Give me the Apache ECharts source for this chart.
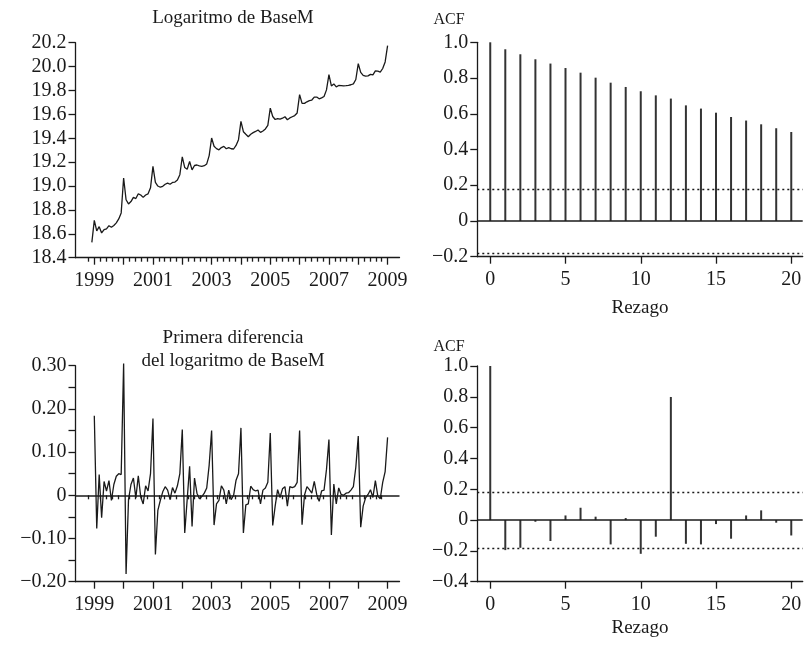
<!DOCTYPE html>
<html><head><meta charset="utf-8">
<script src="https://cdn.jsdelivr.net/npm/echarts@6/dist/echarts.min.js"></script>
<style>html,body{margin:0;padding:0;background:#fff}#c{width:806px;height:645px}</style>
</head><body><div id="c"></div>
<script>
// Log of BaseM, monthly Nov 1998 .. Dec 2008
const logStart = {year: 1998, month: 11};
const logBaseM = [
  18.528, 18.712,
  18.625, 18.660, 18.607, 18.635, 18.642, 18.668, 18.655, 18.670, 18.692, 18.725, 18.775, 19.067,
  18.885, 18.850, 18.870, 18.905, 18.895, 18.935, 18.925, 18.905, 18.925, 18.935, 18.985, 19.165,
  19.030, 19.000, 18.990, 18.998, 19.015, 19.025, 19.015, 19.030, 19.033, 19.050, 19.095, 19.245,
  19.155, 19.140, 19.205, 19.135, 19.172, 19.176, 19.168, 19.165, 19.170, 19.185, 19.255, 19.402,
  19.333, 19.313, 19.303, 19.322, 19.332, 19.312, 19.322, 19.312, 19.310, 19.340, 19.388, 19.542,
  19.455, 19.433, 19.413, 19.434, 19.447, 19.457, 19.469, 19.449, 19.461, 19.478, 19.508, 19.652,
  19.582, 19.557, 19.565, 19.560, 19.568, 19.580, 19.555, 19.570, 19.580, 19.590, 19.612, 19.765,
  19.692, 19.692, 19.705, 19.715, 19.720, 19.745, 19.745, 19.730, 19.738, 19.750, 19.805, 19.933,
  19.838, 19.855, 19.830, 19.842, 19.840, 19.838, 19.840, 19.843, 19.848, 19.855, 19.892, 20.025,
  19.951, 19.926, 19.920, 19.922, 19.935, 19.930, 19.964, 19.962, 19.954, 19.984, 20.039, 20.175
];
// First difference, monthly Dec 1998 .. Dec 2008
const diffStart = {year: 1998, month: 12};
const diffLogBaseM = [
  0.184,
  -0.077, 0.048, -0.052, 0.032, 0.010, 0.034, -0.012, 0.025, 0.044, 0.050, 0.048, 0.305,
  -0.182, -0.010, 0.025, 0.040, -0.006, 0.045, -0.004, -0.020, 0.022, 0.010, 0.050, 0.178,
  -0.137, -0.035, -0.012, 0.008, 0.020, 0.012, -0.010, 0.018, 0.005, 0.022, 0.050, 0.152,
  -0.087, -0.010, 0.067, -0.072, 0.040, 0.005, -0.008, -0.003, 0.005, 0.017, 0.070, 0.150,
  -0.069, -0.020, -0.012, 0.022, 0.012, -0.020, 0.012, -0.010, 0.000, 0.035, 0.050, 0.156,
  -0.087, -0.022, -0.020, 0.021, 0.013, 0.010, 0.012, -0.020, 0.012, 0.017, 0.030, 0.144,
  -0.070, -0.025, 0.013, -0.005, 0.015, 0.020, -0.025, 0.020, 0.018, 0.020, 0.030, 0.150,
  -0.068, 0.000, 0.020, 0.013, 0.005, 0.032, 0.002, -0.014, 0.010, 0.012, 0.060, 0.129,
  -0.092, 0.026, -0.020, 0.017, 0.002, 0.000, 0.005, 0.006, 0.012, 0.020, 0.065, 0.137,
  -0.074, -0.025, -0.006, 0.002, 0.013, -0.005, 0.034, -0.002, -0.008, 0.030, 0.055, 0.134
];
const lags = [0,1,2,3,4,5,6,7,8,9,10,11,12,13,14,15,16,17,18,19,20];
const acfLog = [1.0,0.961,0.933,0.905,0.881,0.856,0.830,0.802,0.774,0.750,0.726,0.703,0.685,0.647,0.629,0.606,0.582,0.562,0.541,0.519,0.498];
const acfDiff = [1.0,-0.195,-0.180,-0.011,-0.136,0.030,0.080,0.022,-0.158,0.013,-0.219,-0.108,0.799,-0.154,-0.158,-0.026,-0.121,0.030,0.063,-0.017,-0.100];
const confBand = 0.18;

const yearTicks = [1999,2000,2001,2002,2003,2004,2005,2006,2007,2008,2009];
const yearLabels = [1999,2001,2003,2005,2007,2009];
const yTicksLog = [18.4,18.6,18.8,19.0,19.2,19.4,19.6,19.8,20.0,20.2];
const yTicksDiff = [-0.20,-0.15,-0.10,-0.05,0,0.05,0.10,0.15,0.20,0.25,0.30];
const yLabelsDiff = [-0.20,-0.10,0,0.10,0.20,0.30];
const yTicksAcf1 = [-0.2,0,0.2,0.4,0.6,0.8,1.0];
const yTicksAcf2 = [-0.4,-0.2,0,0.2,0.4,0.6,0.8,1.0];
const lagTicks = [0,5,10,15,20];

const FONT = "'Liberation Serif', 'DejaVu Serif', serif";
const INK = '#1a1a1a';

function toT(start, i){ return start.year + (start.month + i)/12; }
const logData = logBaseM.map((v,i)=>[toT(logStart,i), v]);
const diffData = diffLogBaseM.map((v,i)=>[toT(diffStart,i), v]);

const minorTicks = [];
for (let y = 1998; y <= 2008; y++) for (let k = 1; k <= 4; k++) { const t = y + k*0.2; if (t > 1998.7) minorTicks.push(+t.toFixed(2)); }

function fmtNum(v, d){ if (Math.abs(v) < 1e-9) return '0'; const s = Math.abs(v).toFixed(d); return (v < 0 ? '\u2212' : '') + s; }

const XMIN = 1998.359, XMAX = 2009.406;
const LMIN = -0.86, LMAX = 20.76;

const lineW = 1.3;
function timeXAxes(g){
  return [{
    gridIndex: g, type: 'value', min: XMIN, max: XMAX, position: 'bottom',
    axisLine: {show: true, onZero: false, lineStyle: {color: INK, width: lineW}},
    axisTick: {show: true, length: 7, customValues: yearTicks, lineStyle: {color: INK, width: lineW}},
    axisLabel: {customValues: yearLabels, fontSize: 20, fontFamily: FONT, color: INK, margin: 13, formatter: v => String(Math.round(v))},
    splitLine: {show: false}
  },{
    gridIndex: g, type: 'value', min: XMIN, max: XMAX, position: 'bottom', offset: 0,
    axisLine: {show: false},
    axisTick: {show: true, length: 4, customValues: minorTicks, lineStyle: {color: INK, width: lineW}},
    axisLabel: {show: false}, splitLine: {show: false}
  }];
}
function lagXAxis(g){
  return {
    gridIndex: g, type: 'value', min: LMIN, max: LMAX, position: 'bottom',
    axisLine: {show: true, onZero: false, lineStyle: {color: INK, width: lineW}},
    axisTick: {show: true, length: 7, customValues: lagTicks, lineStyle: {color: INK, width: lineW}},
    axisLabel: {customValues: lagTicks, fontSize: 20, fontFamily: FONT, color: INK, margin: 13},
    splitLine: {show: false}
  };
}
function yAxis(g, min, max, ticks, labels, fmt){
  return {
    gridIndex: g, type: 'value', min, max,
    axisLine: {show: true, onZero: false, lineStyle: {color: INK, width: lineW}},
    axisTick: {show: true, length: 7, customValues: ticks, lineStyle: {color: INK, width: lineW}},
    axisLabel: {customValues: labels, fontSize: 20, fontFamily: FONT, color: INK, margin: 9, formatter: fmt},
    splitLine: {show: false}
  };
}

const option = {
  backgroundColor: '#fff',
  animation: false,
  grid: [
    {left: 75.5, top: 42.7, right: 806 - 399.5, bottom: 645 - 257.7},
    {left: 477.3, top: 42.3, right: 806 - 802.7, bottom: 645 - 256.7},
    {left: 75.5, top: 365.7, right: 806 - 399.5, bottom: 645 - 581.7},
    {left: 477.3, top: 366.0, right: 806 - 802.7, bottom: 645 - 581.7}
  ],
  xAxis: [
    ...timeXAxes(0),          // 0,1
    lagXAxis(1),              // 2
    ...timeXAxes(2),          // 3,4
    lagXAxis(3)               // 5
  ],
  yAxis: [
    yAxis(0, 18.4, 20.2, yTicksLog, yTicksLog, v => v.toFixed(1)),
    yAxis(1, -0.2, 1.0, yTicksAcf1, yTicksAcf1, v => fmtNum(v,1)),
    yAxis(2, -0.2, 0.3, yTicksDiff, yLabelsDiff, v => fmtNum(v,2)),
    yAxis(3, -0.4, 1.0, yTicksAcf2, yTicksAcf2, v => fmtNum(v,1))
  ],
  series: [
    {type: 'line', xAxisIndex: 0, yAxisIndex: 0, data: logData, showSymbol: false, symbol: 'none', clip: false,
     lineStyle: {color: INK, width: 1.3}},
    {type: 'bar', xAxisIndex: 2, yAxisIndex: 1, data: lags.map((l,i)=>[l, acfLog[i]]), barWidth: 2,
     itemStyle: {color: '#333'},
     markLine: {silent: true, symbol: 'none', label: {show: false},
       data: [
         {yAxis: 0, lineStyle: {type: 'solid', color: INK, width: 1.5}},
         {yAxis: confBand, lineStyle: {type: [2,3], color: INK, width: 1.3}},
         {yAxis: -confBand, lineStyle: {type: [2,3], color: INK, width: 1.3}}
       ]}},
    {type: 'line', xAxisIndex: 3, yAxisIndex: 2, data: diffData, showSymbol: false, symbol: 'none', clip: false,
     lineStyle: {color: INK, width: 1.3},
     markLine: {silent: true, symbol: 'none', label: {show: false},
       data: [{yAxis: 0, lineStyle: {type: 'solid', color: INK, width: 1.5}}]}},
    {type: 'bar', xAxisIndex: 5, yAxisIndex: 3, data: lags.map((l,i)=>[l, acfDiff[i]]), barWidth: 2,
     itemStyle: {color: '#333'},
     markLine: {silent: true, symbol: 'none', label: {show: false},
       data: [
         {yAxis: 0, lineStyle: {type: 'solid', color: INK, width: 1.5}},
         {yAxis: confBand, lineStyle: {type: [2,3], color: INK, width: 1.3}},
         {yAxis: -confBand, lineStyle: {type: [2,3], color: INK, width: 1.3}}
       ]}}
  ],
  graphic: [
    {type: 'text', x: 233, y: 18, style: {text: 'Logaritmo de BaseM', font: '19px ' + FONT, fill: INK, textAlign: 'center', textVerticalAlign: 'middle'}},
    {type: 'text', x: 233, y: 338, style: {text: 'Primera diferencia', font: '19px ' + FONT, fill: INK, textAlign: 'center', textVerticalAlign: 'middle'}},
    {type: 'text', x: 233, y: 361, style: {text: 'del logaritmo de BaseM', font: '19px ' + FONT, fill: INK, textAlign: 'center', textVerticalAlign: 'middle'}},
    {type: 'text', x: 449, y: 20, style: {text: 'ACF', font: '16px ' + FONT, fill: INK, textAlign: 'center', textVerticalAlign: 'middle'}},
    {type: 'text', x: 449, y: 347, style: {text: 'ACF', font: '16px ' + FONT, fill: INK, textAlign: 'center', textVerticalAlign: 'middle'}},
    {type: 'text', x: 640, y: 308, style: {text: 'Rezago', font: '19px ' + FONT, fill: INK, textAlign: 'center', textVerticalAlign: 'middle'}},
    {type: 'text', x: 640, y: 628, style: {text: 'Rezago', font: '19px ' + FONT, fill: INK, textAlign: 'center', textVerticalAlign: 'middle'}}
  ]
};
echarts.init(document.getElementById('c'), null, {renderer: 'canvas'}).setOption(option);
</script>
</body></html>
